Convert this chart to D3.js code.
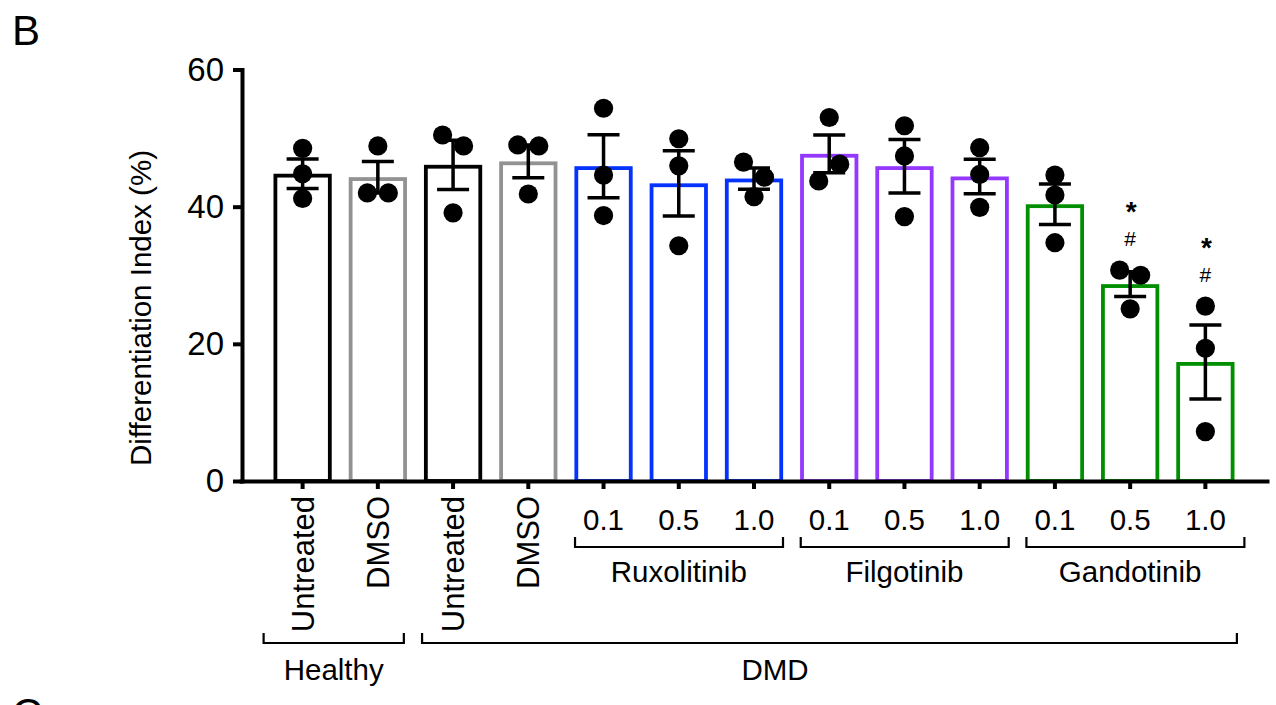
<!DOCTYPE html>
<html>
<head>
<meta charset="utf-8">
<script src="https://cdn.jsdelivr.net/npm/d3@7"></script>
<style>
  html, body { margin: 0; padding: 0; background: #fff; }
  svg { display: block; font-family: "Liberation Sans", Arial, Helvetica, sans-serif; }
</style>
</head>
<body>
<svg id="chart" width="1276" height="705"></svg>
<script>
'use strict';

/* data */
const categories = ['Healthy Untreated', 'Healthy DMSO', 'DMD Untreated', 'DMD DMSO',
  'Rux 0.1', 'Rux 0.5', 'Rux 1.0', 'Fil 0.1', 'Fil 0.5', 'Fil 1.0', 'Gan 0.1', 'Gan 0.5', 'Gan 1.0'];
const tickLabels = ['Untreated', 'DMSO', 'Untreated', 'DMSO',
  '0.1', '0.5', '1.0', '0.1', '0.5', '1.0', '0.1', '0.5', '1.0'];
const treatment = ['Untreated', 'DMSO', 'Untreated', 'DMSO',
  'Ruxolitinib', 'Ruxolitinib', 'Ruxolitinib', 'Filgotinib', 'Filgotinib', 'Filgotinib',
  'Gandotinib', 'Gandotinib', 'Gandotinib'];
const means = [44.8, 44.3, 46.1, 46.6, 45.9, 43.4, 44.1, 47.7, 45.9, 44.4, 40.35, 28.7, 17.35];
const sems  = [2.15, 2.3, 3.6, 2.4, 4.6, 4.75, 1.55, 2.75, 3.9, 2.5, 2.95, 1.8, 5.4];
const replicates = [
  [48.5, 44.8, 41.2], [48.85, 42.0, 42.0], [50.45, 48.85, 39.1], [49.0, 48.85, 41.85],
  [54.35, 44.6, 38.7], [49.9, 45.95, 34.3], [46.5, 44.3, 41.45],
  [53.0, 43.75, 46.2], [51.8, 47.4, 38.55], [48.6, 44.7, 39.9],
  [44.6, 41.7, 34.75], [30.75, 30.0, 25.1], [25.5, 19.35, 7.2]
];
const vsHealthy = ['', '', '', '', '', '', '', '', '', '', '', '*', '*'];
const vsDMD     = ['', '', '', '', '', '', '', '', '', '', '', '#', '#'];
const drugs = ['Ruxolitinib', 'Filgotinib', 'Gandotinib'];
const drugCols = [[4, 6], [7, 9], [10, 12]];
const cohorts = ['Healthy', 'DMD'];
const cohortCols = [[0, 1], [2, 12]];
const yTicks = [0, 20, 40, 60];

const colour = {
  Untreated: '#000000', DMSO: '#929292',
  Ruxolitinib: '#0433FF', Filgotinib: '#9437FF', Gandotinib: '#008F00'
};

const FONT = 29.5;
const svg = d3.select('#chart');

const y = d3.scaleLinear().domain([0, 60]).range([481, 69.5]);
const x = d3.scaleBand().domain(categories).range([241, 1267])
  .paddingInner(0.226).paddingOuter(0.432);
const bw = x.bandwidth();
const cx = i => x(categories[i]) + bw / 2;

/* bars (outline drawn inside the band) */
const SW = 3.8;
svg.append('g').selectAll('rect').data(categories).join('rect')
  .attr('x', d => x(d) + SW / 2)
  .attr('y', (d, i) => y(means[i]) + SW / 2)
  .attr('width', bw - SW)
  .attr('height', (d, i) => y(0) - y(means[i]) - SW / 2)
  .attr('fill', '#fff')
  .attr('stroke', (d, i) => colour[treatment[i]])
  .attr('stroke-width', SW);

/* replicate dots: points that sit on one row get spread sideways */
const R = 9.6, ROW = 18.5, GAP = 21;
function spread(vals) {
  const order = vals.map((v, i) => i).sort((a, b) => vals[b] - vals[a]);
  const rows = [];
  order.forEach(i => {
    const last = rows[rows.length - 1];
    if (last && Math.abs(y(vals[i]) - y(vals[last[last.length - 1]])) < ROW) last.push(i);
    else rows.push([i]);
  });
  const off = [];
  rows.forEach(r => {
    r.sort((a, b) => a - b).forEach((i, k) => { off[i] = (k - (r.length - 1) / 2) * GAP; });
  });
  return off;
}

const dots = [];
replicates.forEach((vals, c) => {
  const off = spread(vals);
  vals.forEach((v, k) => dots.push({ c, v, dx: off[k] }));
});
svg.append('g').selectAll('circle').data(dots).join('circle')
  .attr('cx', d => cx(d.c) + d.dx)
  .attr('cy', d => y(d.v))
  .attr('r', R)
  .attr('fill', '#000');

/* mean ± SEM */
const CAP = 16;
const eb = svg.append('g').attr('stroke', '#000').attr('stroke-width', 3.5).attr('fill', 'none');
eb.selectAll('path').data(categories).join('path')
  .attr('d', (d, i) => {
    const c = cx(i), lo = y(means[i] - sems[i]), hi = y(means[i] + sems[i]);
    return `M${c},${lo}V${hi}M${c - CAP},${hi}H${c + CAP}M${c - CAP},${lo}H${c + CAP}`;
  });

/* significance marks above the highest replicate */
const highest = i => y(d3.max(replicates[i]));
svg.append('g').selectAll('text').data(vsHealthy).join('text')
  .attr('x', (d, i) => cx(i) + 1).attr('y', (d, i) => highest(i) - 49)
  .attr('text-anchor', 'middle').attr('font-size', 28).attr('font-weight', 'bold').text(d => d);
svg.append('g').selectAll('text').data(vsDMD).join('text')
  .attr('x', (d, i) => cx(i)).attr('y', (d, i) => highest(i) - 24)
  .attr('text-anchor', 'middle').attr('font-size', 21).text(d => d);

/* axes */
const yAxis = svg.append('g').attr('transform', 'translate(242,0)')
  .call(d3.axisLeft(y).tickValues(yTicks).tickSize(9).tickPadding(9).tickSizeOuter(0));
const xAxis = svg.append('g').attr('transform', `translate(0,${y(0)})`)
  .call(d3.axisBottom(x).tickSize(8).tickFormat('').tickSizeOuter(0));
[yAxis, xAxis].forEach(a => {
  a.attr('font-family', null).attr('font-size', null);
  a.select('.domain').attr('stroke', '#000').attr('stroke-width', 4).attr('stroke-linecap', 'square');
  a.selectAll('.tick line').attr('stroke', '#000').attr('stroke-width', 4);
});
yAxis.selectAll('.tick text').attr('font-size', 33).attr('fill', '#000');

/* category labels */
const lab = svg.append('g').attr('font-size', FONT).attr('fill', '#000');
tickLabels.forEach((t, i) => {
  if (i < 4) {
    lab.append('text').attr('text-anchor', 'end').attr('font-size', 31)
      .attr('transform', `translate(${cx(i) + 11},496) rotate(-90)`).text(t);
  } else {
    lab.append('text').attr('text-anchor', 'middle')
      .attr('x', cx(i)).attr('y', 530).text(t);
  }
});

/* brackets */
const brk = svg.append('g').attr('stroke', '#000').attr('stroke-width', 2.2).attr('fill', 'none');
drugs.forEach((name, g) => {
  const [a, b] = drugCols[g];
  const x0 = cx(a) - 28.5, x1 = cx(b) + (b === 12 ? 39 : 29);
  brk.append('path').attr('d', `M${x0},537V547H${x1}V537`);
  lab.append('text').attr('text-anchor', 'middle')
    .attr('x', (cx(a) + cx(b)) / 2).attr('y', 582).text(name);
});
cohorts.forEach((name, g) => {
  const [a, b] = cohortCols[g];
  const x0 = a === 0 ? cx(a) - 39 : cx(a) - 31;
  const x1 = b === 12 ? cx(b) + 31.5 : cx(b) + 26;
  brk.append('path').attr('d', `M${x0},633V643H${x1}V633`);
  lab.append('text').attr('text-anchor', 'middle')
    .attr('x', a === 0 ? (x0 + x1) / 2 : 775).attr('y', 680).text(name);
});

/* axis title and panel letters */
svg.append('text').attr('text-anchor', 'middle').attr('font-size', FONT)
  .attr('transform', 'translate(151,308) rotate(-90)')
  .text('Differentiation Index (%)');
svg.append('text').attr('x', 12).attr('y', 45).attr('font-size', 42).text('B');
svg.append('text').attr('x', 12).attr('y', 728).attr('font-size', 42).text('C');
</script>
</body>
</html>
